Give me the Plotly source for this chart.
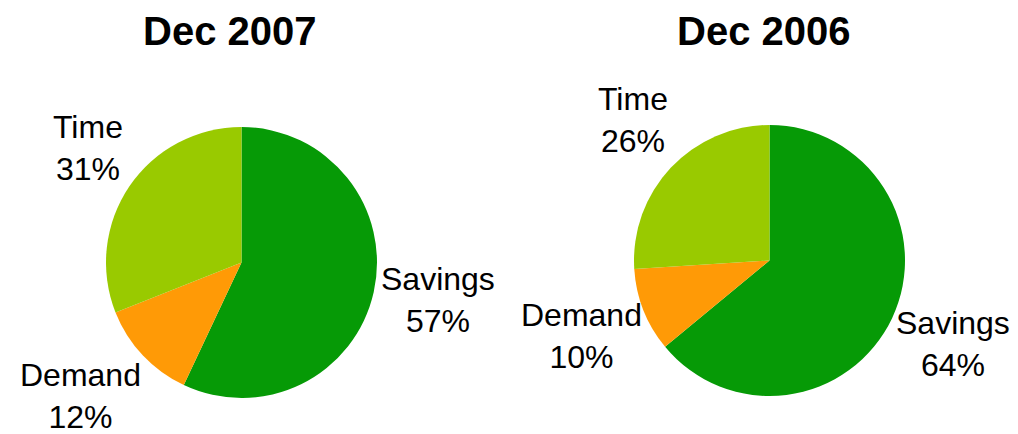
import plotly.graph_objects as go

categories = ["Savings", "Demand", "Time"]
values_2007 = [57, 12, 31]
values_2006 = [64, 10, 26]
titles = ["Dec 2007", "Dec 2006"]
colors = ["#069A06", "#FF9A06", "#99CA00"]

# layout (window pixels); the page body has an 8px margin
OFF = 8
W, H = 1018 - OFF, 434 - OFF
FONT = "Liberation Sans, Arial, sans-serif"

def px(x):
    return (x - OFF) / W

def py(y):
    return 1 - (y - OFF) / H

def dom(cx, cy, r):
    return dict(x=[px(cx - r), px(cx + r)], y=[py(cy + r), py(cy - r)])

pies = [
    dict(values=values_2007, center=(241.5, 262.5), r=135.5, title_x=229,
         label_pos=[(438, 300), (80, 396), (87.5, 148)]),
    dict(values=values_2006, center=(769.5, 260.5), r=135.5, title_x=763.5,
         label_pos=[(952.5, 344), (581.5, 336), (632.5, 120)]),
]

fig = go.Figure()
for p, title in zip(pies, titles):
    fig.add_trace(go.Pie(
        labels=categories, values=p["values"], sort=False, direction="clockwise", rotation=0,
        marker=dict(colors=colors, line=dict(width=0)),
        textinfo="none", domain=dom(*p["center"], p["r"]), showlegend=False,
        hoverinfo="label+percent",
    ))
    for cat, val, (lx, ly) in zip(categories, p["values"], p["label_pos"]):
        fig.add_annotation(text="%s<br>%d%%" % (cat, val), x=px(lx), y=py(ly),
                           xref="paper", yref="paper", showarrow=False,
                           xanchor="center", yanchor="middle", align="center",
                           font=dict(family=FONT, size=32, color="black"))
    fig.add_annotation(text="<b>%s</b>" % title, x=px(p["title_x"]), y=py(31),
                       xref="paper", yref="paper", showarrow=False,
                       xanchor="center", yanchor="middle",
                       font=dict(family=FONT, size=40, color="black"))

fig.update_layout(width=W, height=H, margin=dict(l=0, r=0, t=0, b=0),
                  paper_bgcolor="white", plot_bgcolor="white")
fig.write_html("out.html")
